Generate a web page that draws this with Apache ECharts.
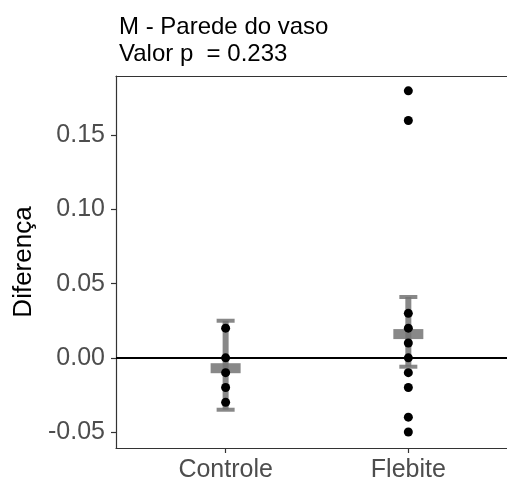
<!DOCTYPE html>
<html>
<head>
<meta charset="utf-8">
<script src="https://cdn.jsdelivr.net/npm/echarts@6/dist/echarts.min.js"></script>
<style>
  html, body { margin: 0; padding: 0; background: #fff; }
  #chart { width: 507px; height: 484px; }
</style>
</head>
<body>
<div id="chart"></div>
<script>
// Groups and their positions on the discrete x scale
const categories = ['Controle', 'Flebite'];
const categoryPos = [1, 2];

// Individual differences per group
const controleValues = [0.02, 0.00, -0.01, -0.02, -0.03];
const flebiteValues = [0.18, 0.16, 0.03, 0.02, 0.01, 0.00, -0.01, -0.02, -0.04, -0.05];

// Summary per group: mean, lower and upper limits
const groupMean = [-0.007, 0.016];
const groupLower = [-0.035, -0.006];
const groupUpper = [0.025, 0.041];

// Y axis ticks
const yTicks = [-0.05, 0.00, 0.05, 0.10, 0.15];

const titleText = 'M - Parede do vaso\nValor p  = 0.233';
const yTitle = 'Diferença';

const FONT = '"Liberation Sans", Arial, sans-serif';
const FRAME = { color: '#333333', width: 1.2 };

const pointData = [];
controleValues.forEach(v => pointData.push([categoryPos[0], v]));
flebiteValues.forEach(v => pointData.push([categoryPos[1], v]));

const summaryData = categoryPos.map((x, i) => [x, groupLower[i], groupUpper[i], groupMean[i]]);

const chart = echarts.init(document.getElementById('chart'), null, { renderer: 'canvas' });

chart.setOption({
  animation: false,
  backgroundColor: '#ffffff',
  title: {
    text: titleText,
    left: 114,
    top: 9,
    textStyle: { fontFamily: FONT, fontSize: 24, fontWeight: 'normal', color: '#000', lineHeight: 27 }
  },
  grid: { left: 116, top: 76, right: 0, bottom: 36, show: false },
  xAxis: [
    {
      type: 'value',
      position: 'bottom',
      min: 0.4, max: 2.54,
      splitLine: { show: false },
      axisLine: { show: true, onZero: false, lineStyle: FRAME },
      axisTick: { show: true, customValues: categoryPos, length: 5, lineStyle: FRAME },
      axisLabel: {
        customValues: categoryPos,
        margin: 10,
        fontFamily: FONT, fontSize: 25, color: '#4d4d4d',
        formatter: v => categories[categoryPos.indexOf(v)] || ''
      }
    },
    {
      // top edge of the panel frame
      type: 'value',
      position: 'top',
      min: 0.4, max: 2.54,
      splitLine: { show: false },
      axisLine: { show: true, onZero: false, lineStyle: FRAME },
      axisTick: { show: false },
      axisLabel: { show: false }
    }
  ],
  yAxis: {
    type: 'value',
    min: -0.0608, max: 0.19,
    name: yTitle,
    nameLocation: 'middle',
    nameRotate: 90,
    nameGap: 73,
    nameTextStyle: { fontFamily: FONT, fontSize: 26, color: '#000' },
    splitLine: { show: false },
    axisLine: { show: true, onZero: false, lineStyle: FRAME },
    axisTick: { show: true, customValues: yTicks, length: 5, lineStyle: FRAME },
    axisLabel: {
      customValues: yTicks,
      margin: 11,
      fontFamily: FONT, fontSize: 25, color: '#4d4d4d',
      formatter: v => v.toFixed(2)
    }
  },
  series: [
    {
      // horizontal reference at zero
      type: 'line',
      data: [],
      markLine: {
        silent: true,
        symbol: 'none',
        label: { show: false },
        lineStyle: { color: '#000', width: 2, type: 'solid' },
        data: [{ yAxis: 0 }]
      },
      z: 1
    },
    {
      // error bars with caps and the mean crossbar
      type: 'custom',
      data: summaryData,
      z: 2,
      renderItem: (params, api) => {
        const x = api.value(0);
        const lo = api.coord([x, api.value(1)]);
        const hi = api.coord([x, api.value(2)]);
        const mid = api.coord([x, api.value(3)]);
        const gray = 'rgba(115,115,115,0.85)';
        const capW = 18, capH = 4, barW = 6, boxW = 30, boxH = 10;
        return {
          type: 'group',
          children: [
            { type: 'rect', shape: { x: hi[0] - barW / 2, y: hi[1], width: barW, height: lo[1] - hi[1] }, style: { fill: gray } },
            { type: 'rect', shape: { x: hi[0] - capW / 2, y: hi[1] - capH / 2, width: capW, height: capH }, style: { fill: gray } },
            { type: 'rect', shape: { x: lo[0] - capW / 2, y: lo[1] - capH / 2, width: capW, height: capH }, style: { fill: gray } },
            { type: 'rect', shape: { x: mid[0] - boxW / 2, y: mid[1] - boxH / 2, width: boxW, height: boxH }, style: { fill: gray } }
          ]
        };
      }
    },
    {
      type: 'scatter',
      data: pointData,
      symbol: 'circle',
      symbolSize: 9,
      itemStyle: { color: '#000', opacity: 1 },
      z: 3
    }
  ]
});
</script>
</body>
</html>
